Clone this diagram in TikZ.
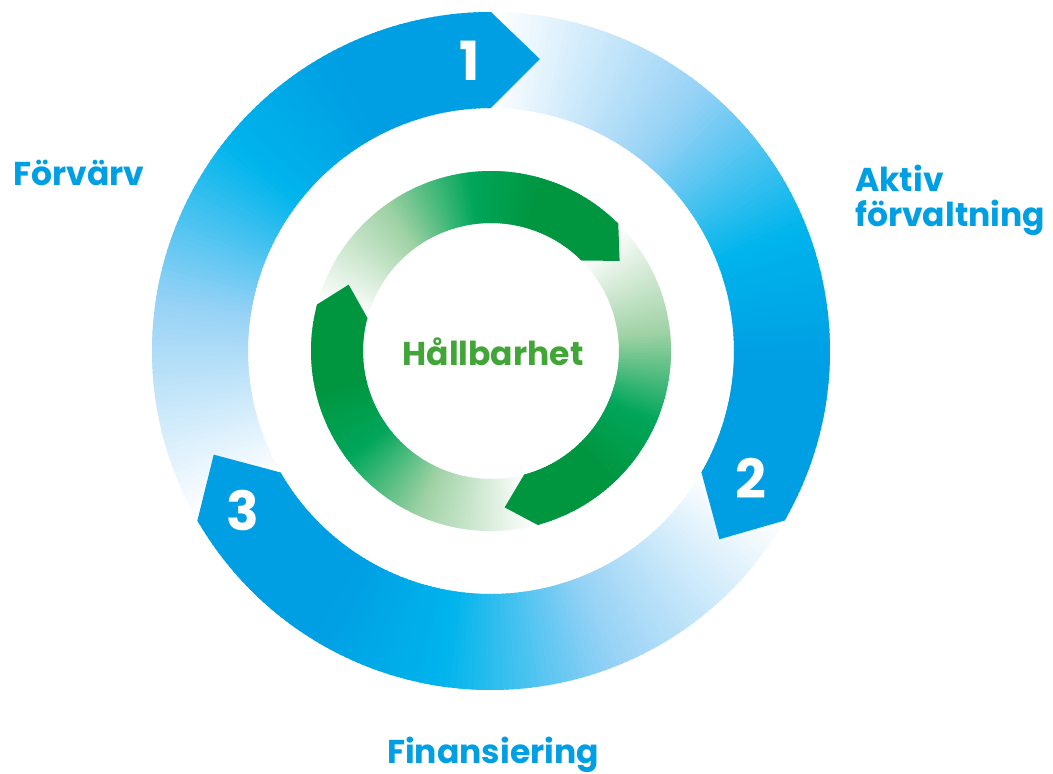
\documentclass[tikz,border=0pt]{standalone}
\usepackage{fontspec}
\setmainfont{Poppins}

\definecolor{blueA}{RGB}{150,210,245}
\definecolor{blueB}{RGB}{0,180,236}
\definecolor{blueC}{RGB}{0,159,227}
\definecolor{greenA}{RGB}{160,210,165}
\definecolor{greenB}{RGB}{0,166,90}
\definecolor{greenC}{RGB}{0,150,64}
\definecolor{labelblue}{RGB}{0,159,227}
\definecolor{labelgreen}{RGB}{65,165,55}

% band of the ring: head angle, inner r, outer r, colour prefix
% fades from white at the tail (head+120) to prefix C at the head
\newcommand{\ringband}[4]{%
  \foreach \i in {0,...,119}{%
    \pgfmathsetmacro{\tpos}{\i/119}
    \pgfmathsetmacro{\pa}{max(0,min(100,100*\tpos/0.32))}
    \pgfmathsetmacro{\pb}{max(0,min(100,100*(\tpos-0.32)/0.25))}
    \pgfmathsetmacro{\pc}{max(0,min(100,100*(\tpos-0.57)/0.2))}
    \colorlet{bandA}{#4A!\pa!white}
    \colorlet{bandB}{#4B!\pb!bandA}
    \colorlet{bandC}{#4C!\pc!bandB}
    \pgfmathsetmacro{\angA}{#1+120-\i}
    \pgfmathsetmacro{\angB}{max(#1,\angA-1.6)}
    \fill[bandC] (\angA:#3) arc[start angle=\angA, end angle=\angB, radius=#3]
      -- (\angB:#2) arc[start angle=\angB, end angle=\angA, radius=#2] -- cycle;
  }%
}
% arrow point: head angle, inner r, outer r, tip r, tip angle offset, colour
\newcommand{\ringtip}[6]{%
  \fill[#6] (#1+0.8:#3) -- (#1:#3) -- (#1-#5:#4) -- (#1:#2) -- (#1+0.8:#2) -- cycle;%
}

\begin{document}
\begin{tikzpicture}[x=1pt,y=1pt]
 \tikzset{numlabel/.style={text=white, inner sep=0, font=\fontsize{54}{54}\selectfont\bfseries},
   steplabel/.style={text=labelblue, inner sep=0, font=\fontsize{33}{35}\selectfont\bfseries}}
  \useasboundingbox (-491,-423) rectangle (562,351);

  % outer cycle
  \foreach \h in {90,-30,210} \ringband{\h}{243}{339}{blue};
  \foreach \h in {90,-30,210} \ringtip{\h}{243}{339}{296}{9.5}{blueC};

  % inner cycle
  \foreach \h in {45,-75,165} \ringband{\h}{128}{180}{green};
  \foreach \h in {45,-75,165} \ringtip{\h}{128}{180}{157}{10}{greenC};

  \node[numlabel] (one) at (-21.5,290) {1};
  \node[numlabel] (two) at (260,-127) {2};
  \node[numlabel] (three) at (-248,-159) {3};

  \node[steplabel, anchor=base west] (acq) at (-478,165) {Förvärv};
  \node[steplabel, anchor=north west, align=left] (mgmt) at (364,186) {Aktiv\\förvaltning};
  \node[steplabel, anchor=base west] (fin) at (-104,-412) {Finansiering};
  \node[steplabel, anchor=base, text=labelgreen] (sust) at (2,-14) {Hållbarhet};
\end{tikzpicture}
\end{document}
